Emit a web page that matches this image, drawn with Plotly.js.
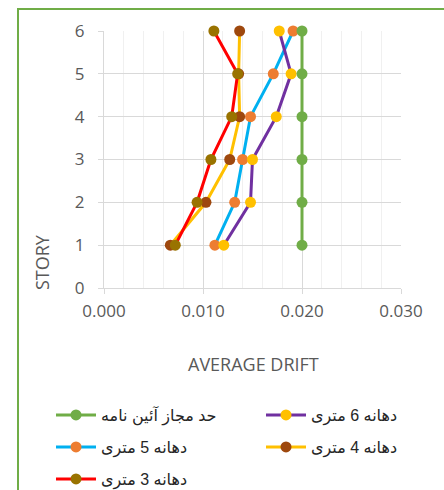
<!DOCTYPE html>
<html>
<head>
<meta charset="utf-8">
<script src="https://cdn.plot.ly/plotly-3.0.1.min.js"></script>
<style>
html,body{margin:0;padding:0;background:#fff;}
#wrap{position:relative;width:444px;height:490px;overflow:hidden;}
#chart{position:absolute;left:0;top:0;width:444px;height:490px;}
#frame{position:absolute;left:17px;top:8px;width:500px;height:600px;border-top:2px solid #70AD47;border-left:2px solid #70AD47;pointer-events:none;}
</style>
</head>
<body>
<div id="wrap"><div id="chart"></div><div id="frame"></div></div>
<script>
// Data
const stories = [1, 2, 3, 4, 5, 6];
const limitDrift = [0.020, 0.020, 0.020, 0.020, 0.020, 0.020];
const span6 = [0.0121, 0.0148, 0.0150, 0.0174, 0.0189, 0.0177];
const span5 = [0.0112, 0.0132, 0.0140, 0.0148, 0.0171, 0.0191];
const span4 = [0.0067, 0.0103, 0.0127, 0.0137, 0.0136, 0.0137];
const span3 = [0.0072, 0.0094, 0.0108, 0.0129, 0.0135, 0.0111];
const xTickVals = [0, 0.01, 0.02, 0.03];
const xTickText = ['0.000', '0.010', '0.020', '0.030'];
const yTickVals = [0, 1, 2, 3, 4, 5, 6];
const names = {
  limit: 'حد مجاز آئین نامه',
  s6: 'دهانه 6 متری',
  s5: 'دهانه 5 متری',
  s4: 'دهانه 4 متری',
  s3: 'دهانه 3 متری'
};
const xTitle = 'AVERAGE DRIFT';
const yTitle = 'STORY';

function tr(x, name, lineColor, markerColor, legend) {
  return {
    x: x, y: stories, name: name, type: 'scatter', mode: 'lines+markers',
    line: {color: lineColor, width: 3},
    marker: {color: markerColor, size: 11, line: {width: 0}},
    legend: legend, cliponaxis: false
  };
}

const data = [
  tr(span5, names.s5, '#00B0F0', '#ED7D31', 'legend3'),
  tr(span6, names.s6, '#7030A0', '#FFC000', 'legend2'),
  tr(span4, names.s4, '#FFC000', '#9E480E', 'legend4'),
  tr(span3, names.s3, '#FF0000', '#997300', 'legend5'),
  tr(limitDrift, names.limit, '#70AD47', '#70AD47', 'legend')
];

const tickFont = {family: 'Open Sans, sans-serif', size: 17, color: '#595959'};
const legFont = {family: 'Liberation Sans, DejaVu Sans, sans-serif', size: 16, color: '#262626'};
function leg(x, y) {
  return {orientation: 'h', xref: 'container', yref: 'container',
    x: x, xanchor: 'left', y: y, yanchor: 'middle',
    itemwidth: 40, font: legFont, bgcolor: 'rgba(0,0,0,0)'};
}
const col1 = 51 / 444, col2 = 261 / 444;
const row1 = 1 - 415 / 490, row2 = 1 - 447 / 490, row3 = 1 - 479 / 490;

const layout = {
  width: 444, height: 490,
  margin: {l: 104, r: 43, t: 31, b: 202},
  paper_bgcolor: 'rgba(0,0,0,0)', plot_bgcolor: '#fff',
  showlegend: true,
  xaxis: {
    range: [0, 0.03], tickvals: xTickVals, ticktext: xTickText,
    showgrid: true, gridcolor: '#D9D9D9', gridwidth: 1,
    minor: {dtick: 0.002, showgrid: true, gridcolor: '#F0F0F0', gridwidth: 1},
    zeroline: false, showline: true, linecolor: '#D9D9D9', linewidth: 1,
    ticks: 'outside', ticklen: 5, tickcolor: '#D9D9D9',
    tickfont: tickFont, ticklabelstandoff: 3, fixedrange: true
  },
  yaxis: {
    range: [0, 6], tickvals: yTickVals,
    showgrid: true, gridcolor: '#D9D9D9', gridwidth: 1,
    zeroline: false, showline: true, linecolor: '#D9D9D9', linewidth: 1,
    ticks: 'outside', ticklen: 5, tickcolor: '#D9D9D9',
    tickfont: tickFont, ticklabelstandoff: 10, fixedrange: true
  },
  legend: leg(col1, row1),
  legend2: leg(col2, row1),
  legend3: leg(col1, row2),
  legend4: leg(col2, row2),
  legend5: leg(col1, row3),
  annotations: [
    {text: xTitle, xref: 'paper', yref: 'paper', x: 0.505, y: -0.2957,
     xanchor: 'center', yanchor: 'middle', showarrow: false,
     font: {family: 'Open Sans, sans-serif', size: 18, color: '#595959'}},
    {text: yTitle, xref: 'paper', yref: 'paper', x: -0.2088, y: 0.101,
     xanchor: 'center', yanchor: 'middle', showarrow: false, textangle: -90,
     font: {family: 'Open Sans, sans-serif', size: 18, color: '#595959'}}
  ]
};

Plotly.newPlot('chart', data, layout, {displayModeBar: false, staticPlot: true});
</script>
</body>
</html>
